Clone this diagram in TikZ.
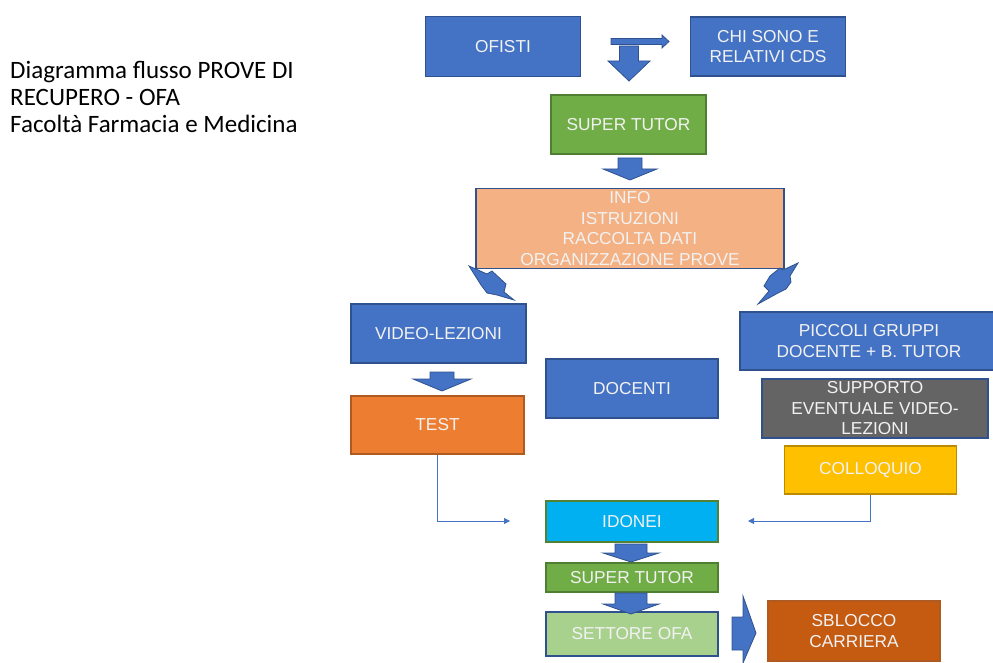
\documentclass[tikz,border=0pt]{standalone}
\usepackage{fontspec}
\newfontfamily\boxfont{Liberation Sans}
\newfontfamily\titlefont{Carlito}
\usetikzlibrary{arrows.meta}
\definecolor{oblue}{HTML}{4472C4}
\definecolor{oblueb}{HTML}{2F528F}
\definecolor{ogreen}{HTML}{70AD47}
\definecolor{ogreenb}{HTML}{507E32}
\definecolor{opeach}{HTML}{F4B183}
\definecolor{ogray}{HTML}{646464}
\definecolor{ogold}{HTML}{FFC000}
\definecolor{ogoldb}{HTML}{BC8C00}
\definecolor{oorange}{HTML}{ED7D31}
\definecolor{oorangeb}{HTML}{AE5A21}
\definecolor{ocyan}{HTML}{00B0F0}
\definecolor{ogreenb2}{HTML}{548235}
\definecolor{olgreen}{HTML}{A9D18E}
\definecolor{orust}{HTML}{C55A11}
\definecolor{otext}{HTML}{F2F2F2}
\tikzset{
  box/.style={draw=oblueb, line width=1.5pt, inner sep=0pt, align=center,
    text=otext, font=\boxfont\fontsize{17.3}{20.5}\selectfont},
  barrow/.style={fill=oblue, draw=oblueb, line width=0.8pt, line join=miter},
  thinconn/.style={draw=oblue, line width=0.8pt, -{Triangle[length=6pt,width=6pt]}}
}
\newcommand\dnarrowblk[6]{% cx, top, shaft half, head y, head half, tip y
  \filldraw[barrow] (#1-#3,#2) -- (#1+#3,#2) -- (#1+#3,#4) -- (#1+#5,#4) -- (#1,#6) -- (#1-#5,#4) -- (#1-#3,#4) -- cycle;}
\begin{document}
\begin{tikzpicture}[x=1pt,y=-1pt]
\useasboundingbox (0,0) rectangle (993,663);
% title
\node[anchor=north west, inner sep=0pt, align=left, font=\titlefont\fontsize{25}{27.2}\selectfont] (title) at (10,61)
  {Diagramma flusso PROVE DI\\RECUPERO - OFA\\Facoltà Farmacia e Medicina};
% boxes
\node[box, fill=oblue, minimum width=155pt, minimum height=60pt] (ofisti) at (503,46.5) {OFISTI};
\node[box, fill=oblue, minimum width=155pt, minimum height=59pt] (chisono) at (768,46.5) {CHI SONO E\\RELATIVI CDS};
\node[box, fill=ogreen, draw=ogreenb, minimum width=155pt, minimum height=59pt] (super1) at (628.5,124.5) {SUPER TUTOR};
\node[box, fill=opeach, minimum width=308pt, minimum height=80pt] (info) at (630,228.5) {\raisebox{8pt}{}INFO\\ISTRUZIONI\\RACCOLTA DATI\\ORGANIZZAZIONE PROVE};
\node[box, fill=oblue, minimum width=175pt, minimum height=59pt] (video) at (438.5,333.5) {VIDEO-LEZIONI};
\node[box, fill=oblue, minimum width=172pt, minimum height=59pt] (docenti) at (632,388.5) {DOCENTI};
\node[box, fill=oblue, minimum width=258pt, minimum height=58pt] (piccoli) at (869,341) {PICCOLI GRUPPI\\DOCENTE + B. TUTOR};
\node[box, fill=ogray, minimum width=226pt, minimum height=59pt] (supporto) at (875,408.5) {SUPPORTO\\EVENTUALE VIDEO-\\LEZIONI};
\node[box, fill=ogold, draw=ogoldb, minimum width=172pt, minimum height=48pt] (colloquio) at (870.5,470) {COLLOQUIO};
\node[box, fill=oorange, draw=oorangeb, minimum width=173pt, minimum height=58pt] (test) at (437.5,425) {TEST};
\node[box, fill=ocyan, draw=ogreenb2, minimum width=172pt, minimum height=41pt] (idonei) at (632,521.5) {IDONEI};
\node[box, fill=ogreen, draw=ogreenb, minimum width=172pt, minimum height=29pt] (super2) at (632,577.5) {SUPER TUTOR};
\node[box, fill=olgreen, minimum width=172pt, minimum height=44pt] (settore) at (632,634) {SETTORE OFA};
\node[box, fill=orust, draw=oorangeb, minimum width=172pt, minimum height=60pt] (sblocco) at (854,631) {SBLOCCO\\CARRIERA};
% block arrows
\filldraw[barrow] (611,38.5) -- (662,38.5) -- (662,35) -- (669,41.5) -- (662,48) -- (662,44.5) -- (611,44.5) -- cycle;
\dnarrowblk{629}{46}{9.5}{61}{21}{81}
\dnarrowblk{630}{158}{12}{169}{27}{180}
\dnarrowblk{442}{372}{12}{379}{29}{391}
\dnarrowblk{631}{544}{16}{553}{28}{562}
\dnarrowblk{631}{593}{16}{604}{28}{614}
\filldraw[barrow] (732,617) -- (743,617) -- (743,596) -- (756,633) -- (743,663) -- (743,650) -- (732,650) -- cycle;
% diagonal arrows
\filldraw[barrow] (469,266) -- (487,274) -- (492,271) -- (506,284) -- (504,292) -- (514,300) -- (497,295) -- (487,293) -- (481,285) -- cycle;
\filldraw[barrow] (798,263) -- (790,276) -- (791,282) -- (786,289) -- (778,293) -- (758,304) -- (769,291) -- (764,286) -- (770,276) -- (780,268) -- (783,270) -- cycle;
% thin connectors
\coordinate (ltip) at (510,521);
\coordinate (rtip) at (748,521);
\draw[thinconn] (test.south) |- (ltip);
\draw[thinconn] (colloquio.south) |- (rtip);
\end{tikzpicture}
\end{document}
